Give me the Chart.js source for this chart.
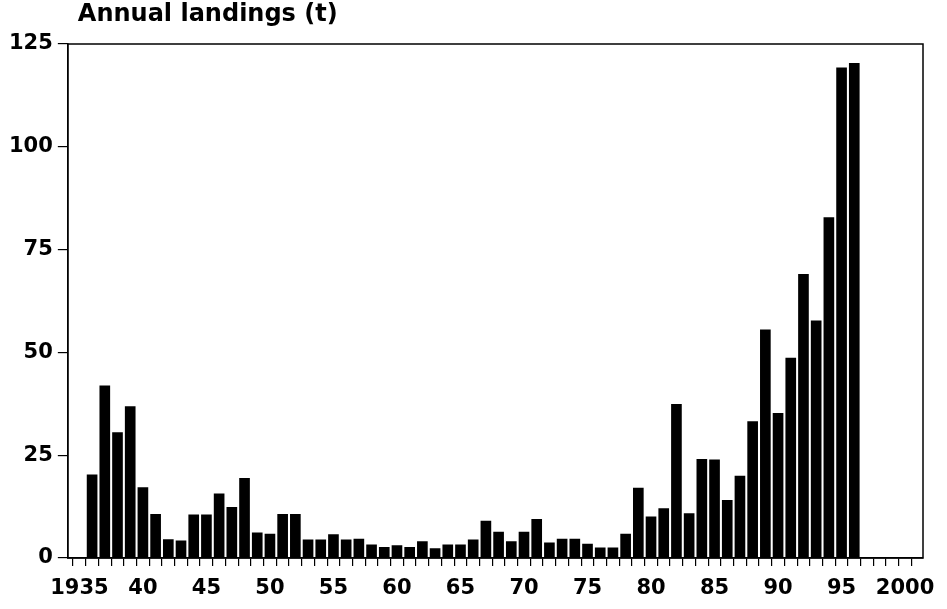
<!DOCTYPE html>
<html>
<head>
<meta charset="utf-8">
<title>Annual landings</title>
<script src="https://cdn.jsdelivr.net/npm/chart.js@4/dist/chart.umd.min.js"></script>
<style>
    html, body { margin: 0; padding: 0; background: #fff; }
    #wrap { width: 947px; height: 609px; position: relative; }
</style>
</head>
<body>
<div id="wrap"><canvas id="landingsChart"></canvas></div>
<script>
// landings per year
const years = [
    1936, 1937, 1938, 1939, 1940, 1941, 1942, 1943, 1944, 1945,
    1946, 1947, 1948, 1949, 1950, 1951, 1952, 1953, 1954, 1955,
    1956, 1957, 1958, 1959, 1960, 1961, 1962, 1963, 1964, 1965,
    1966, 1967, 1968, 1969, 1970, 1971, 1972, 1973, 1974, 1975,
    1976, 1977, 1978, 1979, 1980, 1981, 1982, 1983, 1984, 1985,
    1986, 1987, 1988, 1989, 1990, 1991, 1992, 1993, 1994, 1995,
    1996
];
const landings = [
    20.2, 41.9, 30.5, 36.8, 17.1, 10.6, 4.5, 4.2, 10.5, 10.5,
    15.6, 12.3, 19.4, 6.1, 5.8, 10.6, 10.6, 4.4, 4.4, 5.7,
    4.4, 4.6, 3.2, 2.6, 3.0, 2.6, 4.0, 2.3, 3.2, 3.2,
    4.4, 9.0, 6.3, 4.0, 6.3, 9.4, 3.7, 4.6, 4.6, 3.4,
    2.5, 2.5, 5.8, 17.0, 10.0, 12.0, 37.4, 10.8, 24.0, 23.9,
    14.0, 19.9, 33.2, 55.5, 35.2, 48.6, 69.0, 57.7, 82.8, 119.2,
    120.3
];

// axis labels
const xLabelYears = [1935, 1940, 1945, 1950, 1955, 1960, 1965, 1970, 1975, 1980, 1985, 1990, 1995, 2000];
const xLabelTexts = ['1935', '40', '45', '50', '55', '60', '65', '70', '75', '80', '85', '90', '95', '2000'];
const yTicks = [0, 25, 50, 75, 100, 125];
const titleText = 'Annual landings (t)';

const FONT = "'DejaVu Sans', sans-serif";

const framePlugin = {
    id: 'frame',
    afterDraw(chart) {
        const { ctx, chartArea } = chart;
        ctx.save();
        ctx.strokeStyle = '#000';
        ctx.lineWidth = 1.5;
        ctx.strokeRect(chartArea.left, chartArea.top, chartArea.right - chartArea.left, chartArea.bottom - chartArea.top);
        // title sits just above the frame
        ctx.fillStyle = '#000';
        ctx.font = 'bold 24px ' + FONT;
        ctx.textAlign = 'left';
        ctx.textBaseline = 'alphabetic';
        ctx.fillText(titleText, chartArea.left + 10, 21);
        ctx.restore();
    }
};

const ctx = document.getElementById('landingsChart').getContext('2d');
new Chart(ctx, {
    type: 'bar',
    data: {
        datasets: [{
            label: titleText,
            data: years.map((yr, i) => ({ x: yr, y: landings[i] })),
            backgroundColor: '#000',
            borderWidth: 0,
            barThickness: 10
        }]
    },
    options: {
        responsive: true,
        maintainAspectRatio: false,
        animation: false,
        layout: { padding: { left: 4, right: 24, top: 44, bottom: -2 } },
        plugins: {
            legend: { display: false },
            tooltip: { enabled: false }
        },
        scales: {
            x: {
                type: 'linear',
                min: 1934.6,
                max: 2000.9,
                grid: { drawOnChartArea: false, tickLength: 8, color: '#000', lineWidth: 1.2 },
                border: { color: '#000', width: 1.5 },
                afterBuildTicks(scale) {
                    const ticks = [];
                    for (let v = xLabelYears[0]; v <= xLabelYears[xLabelYears.length - 1]; v++) ticks.push({ value: v });
                    scale.ticks = ticks;
                },
                ticks: {
                    autoSkip: false,
                    maxRotation: 0,
                    padding: 12,
                    color: '#000',
                    font: { family: FONT, size: 21, weight: 'bold', lineHeight: 1 },
                    callback(value) {
                        const idx = xLabelYears.indexOf(value);
                        return idx >= 0 ? xLabelTexts[idx] : '';
                    }
                }
            },
            y: {
                min: 0,
                max: 125,
                afterBuildTicks(scale) {
                    scale.ticks = yTicks.map(v => ({ value: v }));
                },
                grid: { drawOnChartArea: false, tickLength: 10, color: '#000', lineWidth: 1.2 },
                border: { color: '#000', width: 1.5 },
                ticks: {
                    padding: 5,
                    color: '#000',
                    font: { family: FONT, size: 21, weight: 'bold' }
                }
            }
        }
    },
    plugins: [framePlugin]
});
</script>
</body>
</html>
